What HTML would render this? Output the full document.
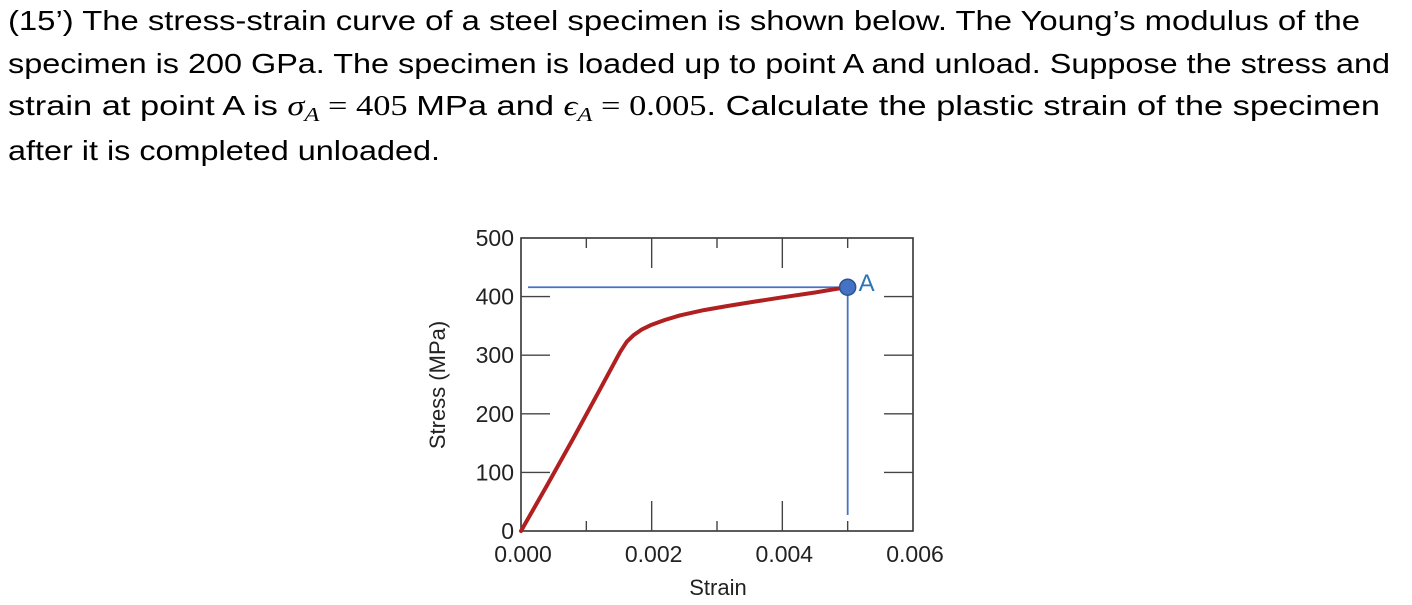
<!DOCTYPE html>
<html><head><meta charset="utf-8"><style>
html,body{margin:0;padding:0;background:#fff;}
svg{display:block;}
</style></head><body>
<svg id="c" width="1412" height="605" xmlns="http://www.w3.org/2000/svg" font-family="'Liberation Sans', sans-serif">
<g font-size="28" fill="#000">
<text x="8" y="30" textLength="1352" lengthAdjust="spacingAndGlyphs">(15’) The stress-strain curve of a steel specimen is shown below. The Young’s modulus of the</text>
<text x="8" y="73" textLength="1382" lengthAdjust="spacingAndGlyphs">specimen is 200 GPa. The specimen is loaded up to point A and unload. Suppose the stress and</text>
<text x="8" y="115" textLength="1372" lengthAdjust="spacingAndGlyphs">strain at point A is <tspan font-family="'Liberation Serif', serif" font-style="italic">σ</tspan><tspan font-family="'Liberation Serif', serif" font-style="italic" font-size="20" dy="6">A</tspan><tspan dy="-6" font-family="'Liberation Serif', serif"> = 405 </tspan>MPa and <tspan font-family="'Liberation Serif', serif" font-style="italic">ϵ</tspan><tspan font-family="'Liberation Serif', serif" font-style="italic" font-size="20" dy="6">A</tspan><tspan dy="-6" font-family="'Liberation Serif', serif"> = 0.005</tspan>. Calculate the plastic strain of the specimen</text>
<text x="8" y="160" textLength="432" lengthAdjust="spacingAndGlyphs">after it is completed unloaded.</text>
</g>
<g id="chart"></g>
</svg>
<script>
const strains=[0,0.0004,0.0008,0.0012,0.00152,0.00162,0.00172,0.00185,0.002,0.0022,0.00243,0.0028,0.00316,0.00355,0.00395,0.0045,0.00498];
const stresses=[0,78,158,240,306,323,334,344,352,360,368,377,384,391,398,407,416];
const xTicks=[0,0.002,0.004,0.006];
const xTickLabels=["0.000","0.002","0.004","0.006"];
const yTicks=[0,100,200,300,400,500];
const yTickLabels=["0","100","200","300","400","500"];
const pointA=[0.005,416];

const L=521,R=913,T=238,B=531;
const xs=v=>L+(v/0.006)*(R-L);
const ys=v=>B-(v/500)*(B-T);
const NS="http://www.w3.org/2000/svg";
const g=document.getElementById('chart');
function mk(tag,attrs,parent){const e=document.createElementNS(NS,tag);for(const k in attrs)e.setAttribute(k,attrs[k]);(parent||g).appendChild(e);return e;}

const frame=mk('rect',{x:L,y:T,width:R-L,height:B-T,fill:'none',stroke:'#333','stroke-width':1.6});



for(let i=1;i<6;i++){
  const v=i*0.001, major=(i%2===0), len=major?30:10;
  const t1=mk('line',{x1:xs(v),x2:xs(v),y1:B,y2:B-len,stroke:'#444','stroke-width':1.4});
  
  
  const t2=mk('line',{x1:xs(v),x2:xs(v),y1:T,y2:T+(major?30:10),stroke:'#444','stroke-width':1.4});
  
  
}
xTicks.forEach((v,i)=>{
  const t=mk('text',{x:xs(v)+2,y:B+31,'text-anchor':'middle','font-size':23,fill:'#222'});
  t.textContent=xTickLabels[i];
  
  
});
yTicks.forEach((v,i)=>{
  if(v>0&&v<500){
    const a=mk('line',{x1:L,x2:L+29,y1:ys(v),y2:ys(v),stroke:'#444','stroke-width':1.4});
    
    
    const b=mk('line',{x1:R,x2:R-29,y1:ys(v),y2:ys(v),stroke:'#444','stroke-width':1.4});
    
    
  }
  const t=mk('text',{x:514,y:ys(v)+8,'text-anchor':'end','font-size':23,fill:'#222'});
  t.textContent=yTickLabels[i];
  
  
});
const xt=mk('text',{x:718,y:595,'text-anchor':'middle','font-size':22,fill:'#222'});
xt.textContent='Strain';


const yt=mk('text',{x:0,y:0,'text-anchor':'middle','font-size':22,fill:'#222',transform:`translate(445,385) rotate(-90)`});
yt.textContent='Stress (MPa)';



const hx=mk('line',{x1:528,x2:xs(pointA[0]),y1:ys(pointA[1]),y2:ys(pointA[1]),stroke:'#4472c4','stroke-width':1.8});


const vx=mk('line',{x1:xs(pointA[0]),x2:xs(pointA[0]),y1:ys(pointA[1]),y2:515,stroke:'#4472c4','stroke-width':1.8});



let d='';
strains.forEach((s,i)=>{d+=(i?' L':'M')+xs(s).toFixed(1)+' '+ys(stresses[i]).toFixed(1);});
const curve=mk('path',{d:d,fill:'none',stroke:'#b02020','stroke-width':4,'stroke-linejoin':'round','stroke-linecap':'round'});



const pt=mk('circle',{cx:xs(pointA[0]),cy:ys(pointA[1]),r:8,fill:'#4472c4',stroke:'#2f528f','stroke-width':1.5});


const pl=mk('text',{x:xs(pointA[0])+11,y:ys(pointA[1])+4,'font-size':24,fill:'#2e75b6'});
pl.textContent='A';


</script>
</body></html>
